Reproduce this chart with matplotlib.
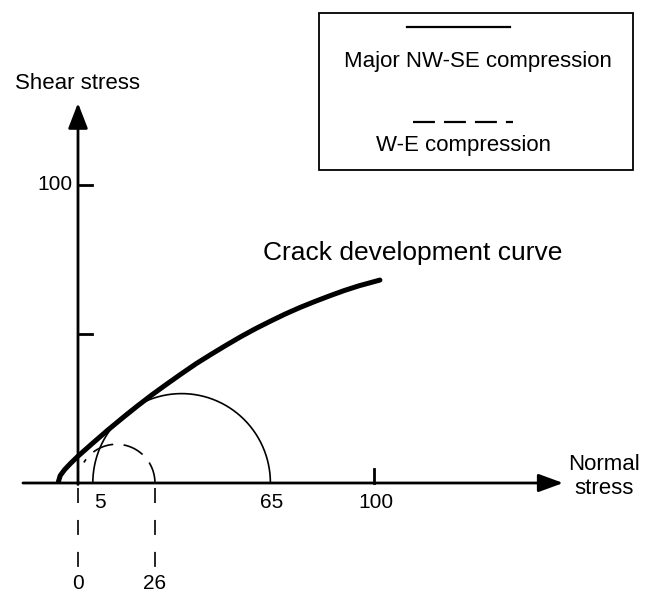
import numpy as np
import matplotlib.pyplot as plt
from matplotlib.patches import Rectangle

plt.rcParams['font.family'] = ['Liberation Sans', 'DejaVu Sans']
plt.rcParams['lines.scale_dashes'] = False

# crack development curve: normal stress vs shear stress
crack_sigma = [-6.6, -6.0, -4.5, -2.5, 0, 5, 10, 15, 20, 25, 30, 35, 40, 45,
               50, 55, 60, 65, 70, 75, 80, 85, 90, 95, 102]
crack_tau = [0.5, 2.5, 4.5, 6.6, 9.0, 13.4, 17.7, 21.8, 25.8, 29.6, 33.2, 36.7,
             40.1, 43.2, 46.2, 49.1, 51.8, 54.3, 56.7, 58.9, 60.9, 62.8, 64.6,
             66.2, 68.1]

# Mohr circles (sigma3, sigma1)
nwse_circle = (5, 65)   # major NW-SE compression
we_circle = (0, 26)     # W-E compression

x_tick_upper = [5, 65, 100]
x_tick_lower = [0, 26]
y_ticks = [50, 100]
y_tick_labels = ['', '100']

# pixel scale of the original drawing (px per stress unit), origin at (78, 483)
SX, SY = 2.96, 2.98
W, H = 647, 593
OX, OY = 78, 483


def main():
    fig = plt.figure(figsize=(W / 100, H / 100), dpi=100)
    ax = fig.add_axes([0, 0, 1, 1])
    ax.set_xlim(-OX / SX, (W - OX) / SX)
    ax.set_ylim((OY - H) / SY, OY / SY)
    ax.axis('off')

    # axes with arrows
    ax.annotate('', xy=(163.9, 0), xytext=(-18.6, 0),
                arrowprops=dict(arrowstyle='-|>,head_length=15,head_width=5.5',
                                mutation_scale=1, lw=2, color='black',
                                shrinkA=0, shrinkB=0))
    ax.annotate('', xy=(0, 127.5), xytext=(0, -0.5),
                arrowprops=dict(arrowstyle='-|>,head_length=15.5,head_width=6',
                                mutation_scale=1, lw=2, color='black',
                                shrinkA=0, shrinkB=0))

    # ticks
    for yt, lab in zip(y_ticks, y_tick_labels):
        ax.plot([0, 4.7], [yt, yt], color='black', lw=2)
        if lab:
            ax.text(-2.0, yt, lab, ha='right', va='center', fontsize=15)
    ax.plot([100, 100], [0, 4.7], color='black', lw=2)

    for v in x_tick_upper:
        ha = 'left' if v == 5 else 'center'
        ax.text(v + (0.3 if v == 5 else 0.5), -6.7, str(v), ha=ha, va='center', fontsize=15)
    for v in x_tick_lower:
        ax.plot([v, v], [-1.7, -28.2], color='black', lw=1.2, dashes=(10.8, 12.2))
        ax.text(v, -33.6, str(v), ha='center', va='center', fontsize=15)

    # Mohr circles
    theta = np.linspace(0, np.pi, 300)
    c, r = (nwse_circle[0] + nwse_circle[1]) / 2, (nwse_circle[1] - nwse_circle[0]) / 2
    ax.plot(c + r * np.cos(theta), r * np.sin(theta), color='black', lw=1.2)

    theta2 = np.linspace(0, np.radians(148), 300)
    c, r = (we_circle[0] + we_circle[1]) / 2, (we_circle[1] - we_circle[0]) / 2
    ax.plot(c + r * np.cos(theta2), r * np.sin(theta2), color='black', lw=1.2,
            dashes=(15.5, 7.5))

    # crack development curve
    ax.plot(crack_sigma, crack_tau, color='black', lw=3.6,
            solid_capstyle='round', solid_joinstyle='round')
    ax.text(113.2, 77.2, 'Crack development curve', ha='center', va='center', fontsize=19)

    # axis titles
    ax.text(-0.3, 134.2, 'Shear stress', ha='center', va='center', fontsize=16)
    ax.text(177.7, 2.3, 'Normal\nstress', ha='center', va='center', fontsize=16,
            linespacing=1.2)

    # legend box
    ax.add_patch(Rectangle((81.4, 105.0), 106.1, 52.7, fill=False,
                           edgecolor='black', lw=1.3))
    ax.plot([111.1, 145.9], [153.0, 153.0], color='black', lw=1.6)
    ax.text(135.1, 141.3, 'Major NW-SE compression', ha='center', va='center', fontsize=16)
    ax.plot([113.2, 147.0], [121.1, 121.1], color='black', lw=1.6, dashes=(15.8, 6.5))
    ax.text(130.4, 113.4, 'W-E compression', ha='center', va='center', fontsize=16)

    plt.savefig('out.png', dpi=100)


if __name__ == '__main__':
    main()
